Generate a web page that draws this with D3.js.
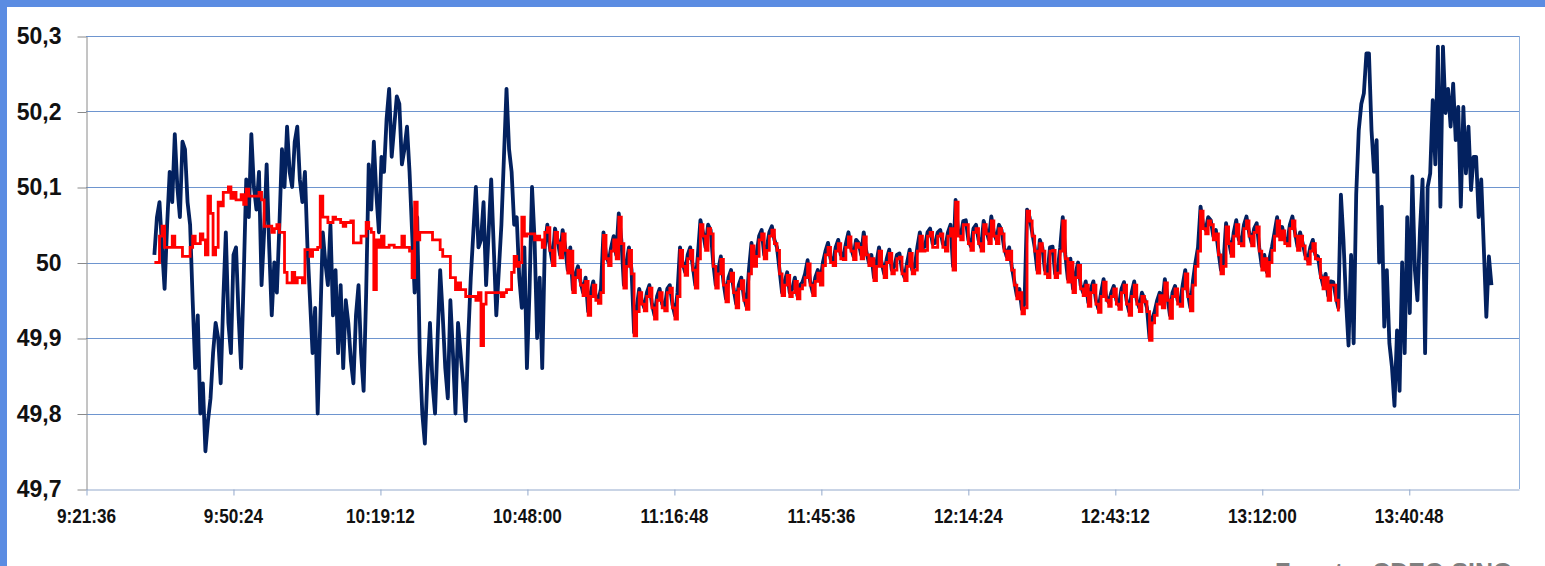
<!DOCTYPE html>
<html>
<head>
<meta charset="utf-8">
<title>Frecuencia</title>
<script src="https://d3js.org/d3.v7.min.js"></script>
<style>
  body { margin: 0; background: #fff; }
  svg { display: block; }
</style>
</head>
<body>
<div id="container"></div>
<script>
//---------------------------- DATA ----------------------------//
const yTicks = [49.7, 49.8, 49.9, 50.0, 50.1, 50.2, 50.3];
const yTickLabels = ["49,7", "49,8", "49,9", "50", "50,1", "50,2", "50,3"];
const xTickLabels = ["9:21:36", "9:50:24", "10:19:12", "10:48:00", "11:16:48",
                     "11:45:36", "12:14:24", "12:43:12", "13:12:00", "13:40:48"];
const axisStart = "9:21:36";
const axisEnd = "14:02:24";
const seriesStart = "9:35:00";   // first sample, one sample every 30 s
const stepMinutes = 0.5;

// dark blue series
const freqBlue = [
  50.01, 50.06, 50.08, 50.02, 49.965, 50.05, 50.12, 50.08, 50.17, 50.10,
  50.06, 50.16, 50.15, 50.08, 50.05, 49.95, 49.86, 49.93, 49.80, 49.84,
  49.75, 49.79, 49.82, 49.88, 49.92, 49.90, 49.84, 49.95, 50.04, 49.92,
  49.88, 50.01, 50.02, 49.93, 49.86, 49.98, 50.11, 50.06, 50.17, 50.10,
  50.07, 50.12, 49.97, 50.04, 50.13, 50.02, 49.93, 50.00, 49.96, 50.05,
  50.15, 50.10, 50.18, 50.12, 50.10, 50.16, 50.18, 50.11, 50.08, 50.12,
  50.02, 49.95, 49.88, 49.94, 49.80, 49.92, 50.04, 50.00, 49.97, 50.05,
  49.93, 49.99, 49.88, 49.97, 49.86, 49.95, 49.92, 49.87, 49.84, 49.93,
  49.97, 49.88, 49.83, 49.96, 50.13, 50.07, 50.16, 50.09, 50.04, 50.14,
  50.12, 50.19, 50.23, 50.14, 50.18, 50.22, 50.21, 50.13, 50.15, 50.18,
  50.12, 50.04, 49.96, 50.06, 49.88, 49.80, 49.76, 49.85, 49.92, 49.84,
  49.80, 49.90, 49.99, 49.93, 49.86, 49.82, 49.95, 49.88, 49.80, 49.92,
  49.88, 49.84, 49.79, 49.90, 49.98, 50.04, 50.10, 50.02, 50.03, 50.08,
  49.97, 50.04, 50.11, 50.02, 49.93, 49.99, 50.05, 50.14, 50.23, 50.15,
  50.12, 50.05, 50.06, 49.98, 49.94, 50.02, 49.86, 49.96, 50.10, 50.03,
  49.90, 49.98, 49.86, 50.02,
  50.05, 50.02, 50.00, 50.045, 50.03, 50.01, 50.043, 50.02, 49.99, 50.02,
  49.964, 49.985, 49.995, 49.975, 49.96, 49.98, 49.935, 49.96, 49.975, 49.955,
  49.95, 49.965, 50.04, 50.01, 50.00, 50.02, 50.035, 50.01, 50.065, 50.03,
  49.97, 50.00, 50.02, 49.99, 49.907, 49.94, 49.965, 49.95, 49.94, 49.96,
  49.97, 49.945, 49.93, 49.955, 49.965, 49.945, 49.94, 49.965, 49.97, 49.945,
  49.93, 49.96, 50.02, 50.0, 49.987, 50.01, 50.02, 49.995, 49.97, 50.01,
  50.056, 50.04, 50.02, 50.05, 50.043, 50.0, 49.97, 49.99, 50.008, 49.975,
  49.952, 49.98, 49.99, 49.965, 49.945, 49.97, 49.98, 49.955, 49.942, 49.99,
  50.026, 50.0, 50.012, 50.035, 50.043, 50.01, 50.02, 50.04, 50.048, 50.03,
  50.02, 49.99, 49.96, 49.975, 49.987, 49.96, 49.965, 49.98, 49.956, 49.97,
  49.974, 49.985, 50.003, 49.975, 49.96, 49.98, 49.99, 49.975, 50.0, 50.015,
  50.026, 50.005, 50.0, 50.02, 50.03, 50.01, 50.008, 50.025, 50.04, 50.02,
  50.008, 50.03, 50.026, 50.01, 50.04, 50.015, 50.0, 50.01, 49.98, 50.0,
  50.02, 50.0, 49.985, 50.005, 50.017, 49.99, 49.995, 50.01, 50.012, 49.99,
  49.98, 50.0, 50.017, 49.99, 49.995, 50.02, 50.04, 50.02, 50.021, 50.04,
  50.045, 50.025, 50.026, 50.04, 50.043, 50.025, 50.02, 50.04, 50.05, 49.995,
  50.083, 50.04, 50.035, 50.055, 50.056, 50.03, 50.021, 50.045, 50.05, 50.03,
  50.02, 50.055, 50.043, 50.03, 50.061, 50.04, 50.03, 50.05, 50.043, 50.02,
  50.008, 50.02, 49.995, 49.975, 49.956, 49.965, 49.938, 49.945, 50.07, 50.06,
  50.04, 50.02, 49.99, 50.03, 50.02, 49.99, 49.985, 50.02, 50.021, 49.985,
  49.99, 50.02, 50.06, 50.01, 49.978, 50.005, 49.965, 49.985, 50.0, 49.97,
  49.96, 49.975, 49.947, 49.965, 49.975, 49.95, 49.938, 49.96, 49.978, 49.955,
  49.947, 49.96, 49.969, 49.95, 49.943, 49.965, 49.974, 49.95, 49.935, 49.96,
  49.975, 49.95, 49.94, 49.96, 49.952, 49.94, 49.90, 49.925, 49.935, 49.95,
  49.96, 49.945, 49.978, 49.955, 49.93, 49.96, 49.969, 49.95, 49.947, 49.97,
  49.99, 49.96, 49.94, 49.975, 50.0, 50.02, 50.074, 50.05, 50.043, 50.06,
  50.056, 50.035, 50.043, 50.015, 49.99, 50.0, 50.052, 50.03, 50.012, 50.04,
  50.056, 50.03, 50.026, 50.05, 50.061, 50.04, 50.026, 50.045, 50.052, 50.02,
  49.995, 50.01, 49.987, 50.005, 50.021, 50.04, 50.06, 50.035, 50.047, 50.03,
  50.026, 50.05, 50.061, 50.04, 50.021, 50.04, 50.026, 50.01, 50.003, 50.02,
  50.03, 50.01, 50.008, 49.985, 49.97, 49.985, 49.956, 49.975, 49.974, 49.955,
  49.94, 50.09, 50.03, 49.95, 49.89, 50.01, 49.893, 50.09, 50.175, 50.21,
  50.224, 50.277, 50.277, 50.175, 50.12, 50.162, 50.0, 50.074, 49.915, 49.99,
  49.893, 49.862, 49.81, 49.91, 49.83, 50.0, 49.88, 50.06, 49.933, 50.114,
  49.99, 49.95, 50.043, 50.11, 49.88, 50.1, 50.118, 50.215, 50.13, 50.286,
  50.074, 50.286, 50.198, 50.23, 50.18, 50.237, 50.162, 50.206, 50.074, 50.206,
  50.118, 50.18, 50.096, 50.14, 50.14, 50.06, 50.11, 50.02, 49.928, 50.008,
  49.97
];

// red series (stops earlier)
const freqRed = [
  50.0, 50.0, 50.035, 50.048, 50.02, 50.02, 50.02, 50.035, 50.02, 50.02,
  50.02, 50.008, 50.008, 50.008, 50.02, 50.035, 50.025, 50.025, 50.038, 50.03,
  50.01, 50.088, 50.065, 50.01, 50.02, 50.08, 50.075, 50.093, 50.093, 50.1,
  50.085, 50.093, 50.083, 50.083, 50.09, 50.077, 50.097, 50.088, 50.088, 50.088,
  50.088, 50.093, 50.083, 50.048, 50.048, 50.048, 50.04, 50.045, 50.05, 50.04,
  50.04, 49.987, 49.973, 49.973, 49.987, 49.973, 49.98, 49.98, 49.973, 50.017,
  50.017, 50.008, 50.017, 50.017, 50.02, 50.088, 50.06, 50.06, 50.053, 50.053,
  50.06, 50.057, 50.057, 50.053, 50.048, 50.053, 50.053, 50.055, 50.026, 50.026,
  50.026, 50.035, 50.035, 50.053, 50.045, 50.04, 49.964, 50.03, 50.02, 50.035,
  50.02, 50.02, 50.023, 50.023, 50.02, 50.02, 50.02, 50.035, 50.02, 50.02,
  50.015, 49.98, 50.08, 50.03, 50.04, 50.04, 50.04, 50.04, 50.04, 50.03,
  50.03, 50.03, 50.017, 50.008, 50.008, 50.008, 49.98, 49.98, 49.964, 49.973,
  49.964, 49.964, 49.955, 49.955, 49.955, 49.955, 49.95, 49.96, 49.89, 49.945,
  49.96, 49.96, 49.96, 49.96, 49.96, 49.96, 49.955, 49.96, 49.964, 49.964,
  49.987, 50.008, 49.995, 50.0, 50.06, 50.035, 50.038, 50.038, 50.038, 50.03,
  50.035, 50.03, 50.02, 50.04,
  50.046, 50.016, 49.996, 50.04, 50.026, 50.006, 50.038, 50.016, 49.986, 50.015,
  49.96, 49.98, 49.99, 49.97, 49.956, 49.975, 49.93, 49.955, 49.97, 49.95,
  49.946, 49.96, 50.036, 50.005, 49.996, 50.015, 50.03, 50.005, 50.06, 50.025,
  49.966, 49.995, 50.016, 49.985, 49.903, 49.935, 49.96, 49.945, 49.936, 49.955,
  49.966, 49.94, 49.925, 49.95, 49.96, 49.94, 49.936, 49.96, 49.966, 49.94,
  49.925, 49.955, 50.016, 49.995, 49.983, 50.005, 50.016, 49.99, 49.966, 50.005,
  50.05, 50.035, 50.016, 50.045, 50.038, 49.995, 49.966, 49.985, 50.004, 49.97,
  49.948, 49.975, 49.986, 49.96, 49.94, 49.965, 49.976, 49.95, 49.938, 49.985,
  50.022, 49.995, 50.008, 50.03, 50.038, 50.005, 50.016, 50.035, 50.043, 50.025,
  50.016, 49.985, 49.956, 49.97, 49.983, 49.955, 49.96, 49.975, 49.952, 49.965,
  49.97, 49.98, 49.998, 49.97, 49.956, 49.975, 49.986, 49.97, 49.996, 50.01,
  50.02, 50.0, 49.996, 50.015, 50.025, 50.005, 50.004, 50.02, 50.034, 50.015,
  50.004, 50.025, 50.02, 50.005, 50.034, 50.01, 49.996, 50.005, 49.976, 49.995,
  50.015, 49.995, 49.98, 50.0, 50.012, 49.985, 49.99, 50.005, 50.007, 49.985,
  49.976, 49.995, 50.012, 49.985, 49.99, 50.015, 50.035, 50.015, 50.016, 50.035,
  50.04, 50.02, 50.02, 50.035, 50.038, 50.02, 50.015, 50.035, 50.045, 49.99,
  50.08, 50.035, 50.03, 50.05, 50.05, 50.025, 50.016, 50.04, 50.045, 50.025,
  50.015, 50.05, 50.038, 50.025, 50.055, 50.035, 50.025, 50.045, 50.038, 50.015,
  50.004, 50.015, 49.99, 49.97, 49.952, 49.96, 49.932, 49.94, 50.068, 50.055,
  50.035, 50.015, 49.986, 50.025, 50.015, 49.985, 49.98, 50.015, 50.016, 49.98,
  49.986, 50.015, 50.055, 50.005, 49.974, 50.0, 49.96, 49.98, 49.996, 49.965,
  49.956, 49.97, 49.942, 49.96, 49.97, 49.945, 49.934, 49.955, 49.974, 49.95,
  49.942, 49.955, 49.965, 49.945, 49.938, 49.96, 49.97, 49.945, 49.93, 49.955,
  49.97, 49.945, 49.935, 49.955, 49.948, 49.935, 49.897, 49.92, 49.93, 49.945,
  49.956, 49.94, 49.973, 49.95, 49.926, 49.955, 49.965, 49.945, 49.942, 49.965,
  49.985, 49.955, 49.936, 49.97, 49.995, 50.015, 50.068, 50.045, 50.038, 50.055,
  50.05, 50.03, 50.038, 50.01, 49.985, 49.995, 50.047, 50.025, 50.008, 50.035,
  50.05, 50.025, 50.022, 50.045, 50.055, 50.035, 50.022, 50.04, 50.047, 50.015,
  49.99, 50.005, 49.982, 50.0, 50.016, 50.035, 50.055, 50.03, 50.042, 50.025,
  50.022, 50.045, 50.055, 50.035, 50.016, 50.035, 50.022, 50.005, 49.998, 50.015,
  50.025, 50.005, 50.004, 49.98, 49.965, 49.98, 49.95, 49.97, 49.97, 49.95,
  49.935
];

//---------------------------- SVG -----------------------------//
const width = 1545;
const height = 566;
const plot = { left: 86, right: 1519, top: 36, bottom: 489 };

const toMin = (s) => {
  const p = s.split(":").map(Number);
  return p[0] * 60 + p[1] + p[2] / 60;
};

const svg = d3.select("#container").append("svg")
  .attr("width", width)
  .attr("height", height);

// slide frame
svg.append("rect").attr("x", 0).attr("y", 0).attr("width", width).attr("height", 7).attr("fill", "#5b8ce2");
svg.append("rect").attr("x", 0).attr("y", 0).attr("width", 7).attr("height", height).attr("fill", "#5b8ce2");

//--------------------------- SCALES ---------------------------//
const x = d3.scaleLinear().domain([toMin(axisStart), toMin(axisEnd)]).range([plot.left, plot.right]);
const y = d3.scaleLinear().domain([49.7, 50.3]).range([plot.bottom, plot.top]);

const t0 = toMin(seriesStart);
const blueData = freqBlue.map((v, i) => ({ t: t0 + i * stepMinutes, v: v }));
const redData = freqRed.map((v, i) => ({ t: t0 + i * stepMinutes, v: v }));

//---------------------------- GRID ----------------------------//
svg.append("g").selectAll("line")
  .data(yTicks.slice(1))
  .enter().append("line")
  .attr("x1", plot.left).attr("x2", plot.right)
  .attr("y1", d => Math.round(y(d)) + 0.5).attr("y2", d => Math.round(y(d)) + 0.5)
  .attr("stroke", "#6e95cf").attr("stroke-width", 1);

// right border
svg.append("line")
  .attr("x1", plot.right + 0.5).attr("x2", plot.right + 0.5)
  .attr("y1", plot.top).attr("y2", plot.bottom)
  .attr("stroke", "#8fb0dc");

//---------------------------- AXES ----------------------------//
const yAxis = d3.axisLeft(y)
  .tickValues(yTicks)
  .tickFormat((d, i) => yTickLabels[i])
  .tickSize(9)
  .tickSizeOuter(0)
  .tickPadding(16);

const gy = svg.append("g")
  .attr("transform", "translate(" + (plot.left + 0.5) + ",0.5)")
  .call(yAxis);
gy.select(".domain").attr("stroke", "#8a8a8a");
gy.selectAll(".tick line").attr("stroke", "#8a8a8a");
gy.selectAll("text")
  .attr("fill", "#111")
  .style("font-family", "'Liberation Sans', Arial, sans-serif")
  .style("font-weight", "bold")
  .style("font-size", "23px");

const xAxis = d3.axisBottom(x)
  .tickValues(xTickLabels.map(toMin))
  .tickFormat((d, i) => xTickLabels[i])
  .tickSize(6)
  .tickSizeOuter(0);

const gx = svg.append("g")
  .attr("transform", "translate(0," + (plot.bottom + 0.5) + ")")
  .call(xAxis);
gx.select(".domain").attr("stroke", "#93a9cc");
gx.selectAll(".tick line").attr("stroke", "#93a9cc").attr("transform", "translate(0.5,0)");
gx.selectAll("text")
  .attr("y", 34)
  .attr("dy", null)
  .attr("transform", "scale(0.86,1)")
  .attr("fill", "#111")
  .style("font-family", "'Liberation Sans', Arial, sans-serif")
  .style("font-weight", "bold")
  .style("font-size", "20px");

//---------------------------- LINES ---------------------------//
const blueLine = d3.line()
  .x(d => x(d.t))
  .y(d => y(d.v));

const redLine = d3.line()
  .curve(d3.curveStepAfter)
  .x(d => x(d.t))
  .y(d => y(d.v));

svg.append("path")
  .datum(blueData)
  .attr("d", blueLine)
  .attr("fill", "none")
  .attr("stroke", "#03215f")
  .attr("stroke-width", 3.8)
  .attr("stroke-linejoin", "round");

svg.append("path")
  .datum(redData)
  .attr("d", redLine)
  .attr("fill", "none")
  .attr("stroke", "#ff0000")
  .attr("stroke-width", 2.8);

//--------------------------- SOURCE ---------------------------//
svg.append("text")
  .attr("x", 1275).attr("y", 581)
  .attr("fill", "#7f7f7f")
  .style("font-family", "'Liberation Sans', Arial, sans-serif")
  .style("font-weight", "bold")
  .style("font-size", "25px")
  .text("Fuente: CDEC-SING");
</script>
</body>
</html>
